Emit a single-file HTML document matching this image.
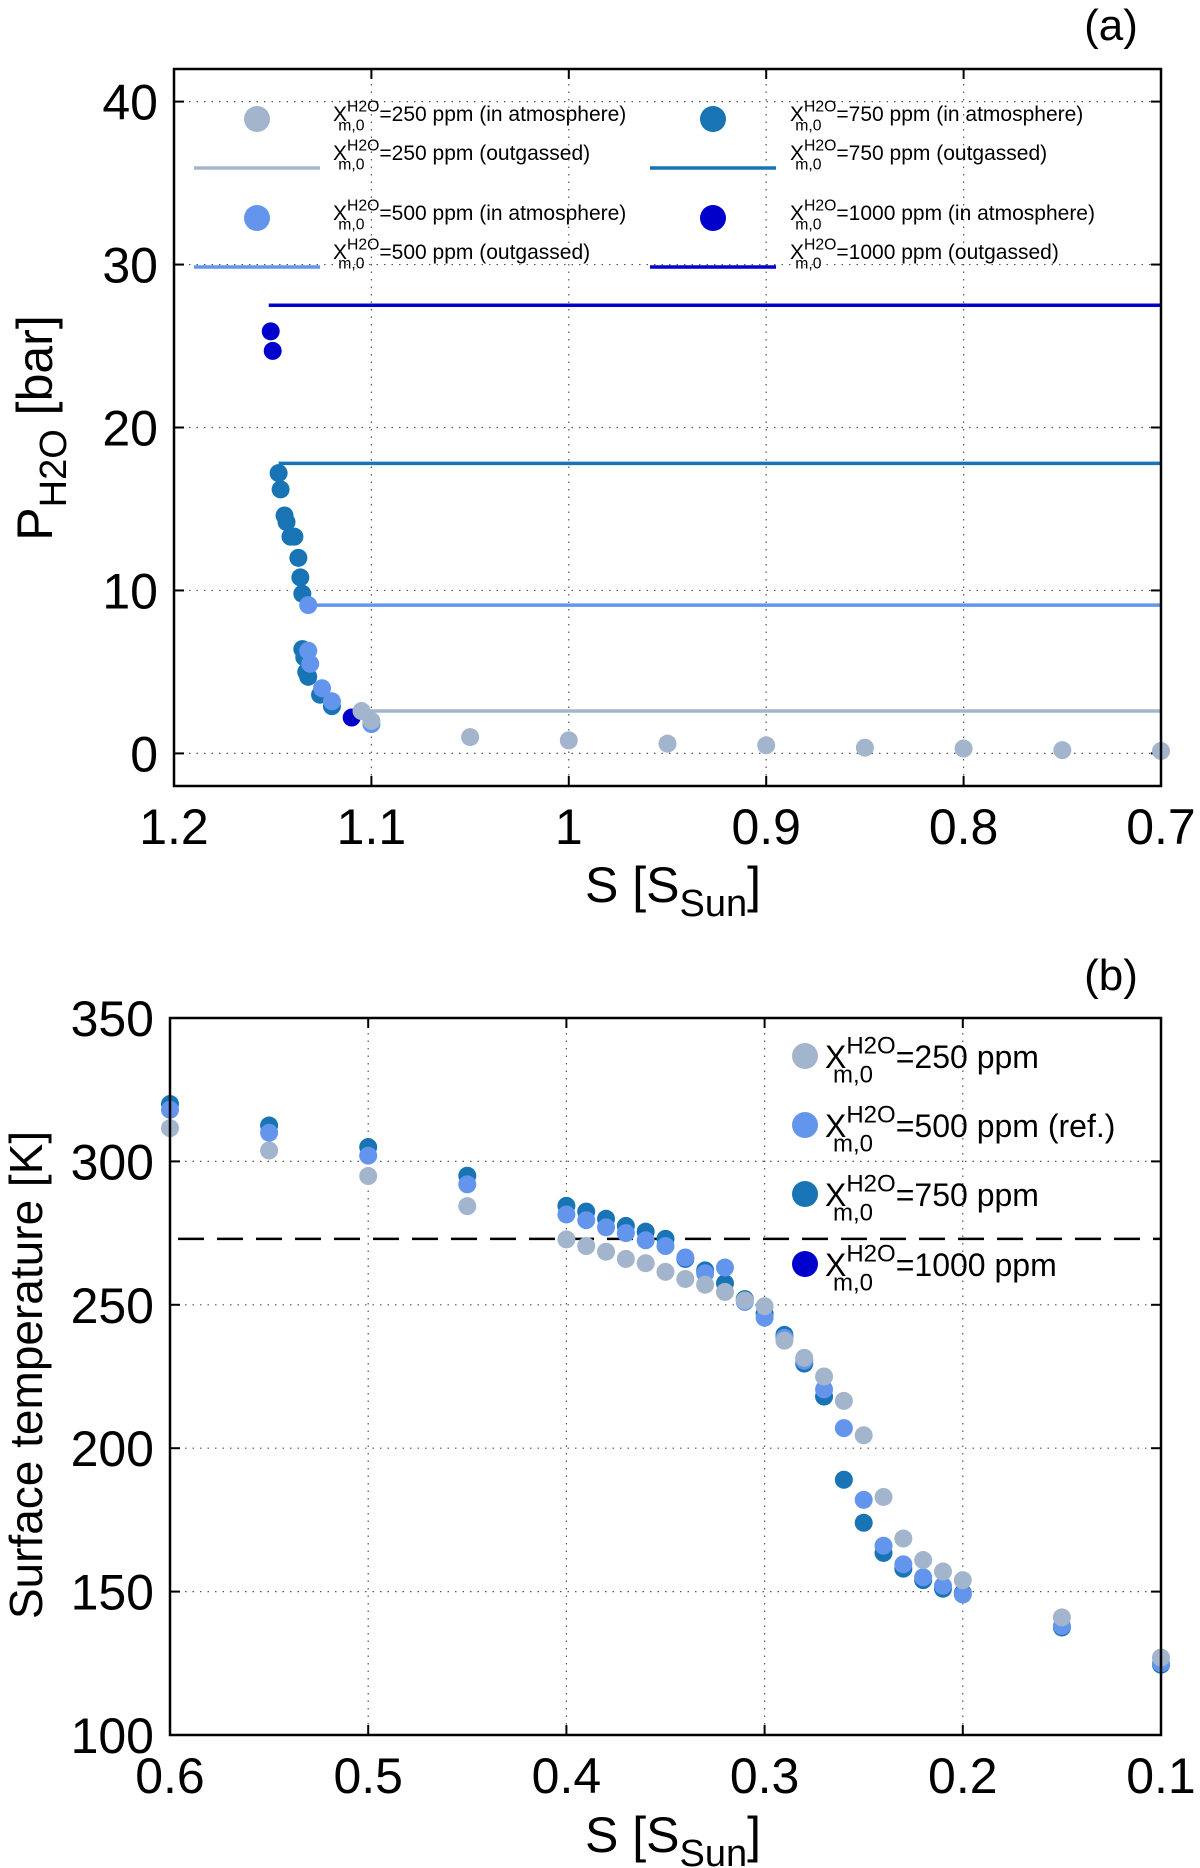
<!DOCTYPE html>
<html><head><meta charset="utf-8"><style>
body{margin:0;background:#fff;}
svg{display:block;font-family:"Liberation Sans",sans-serif;}
</style></head><body>
<svg id="chart" width="1200" height="1868" viewBox="0 0 1200 1868" xmlns="http://www.w3.org/2000/svg"></svg>
<script>
// Panel (a) data
const aXTicks = [1.2, 1.1, 1, 0.9, 0.8, 0.7];
const aYTicks = [0, 10, 20, 30, 40];
const a250S = [1.105, 1.1, 1.05, 1.0, 0.95, 0.9, 0.85, 0.8, 0.75, 0.7];
const a250P = [2.6, 2.0, 1.0, 0.8, 0.6, 0.5, 0.35, 0.3, 0.2, 0.15];
const a500S = [1.132, 1.132, 1.131, 1.125, 1.12, 1.1];
const a500P = [9.1, 6.3, 5.5, 4.0, 3.2, 1.8];
const a750S = [1.147, 1.146, 1.144, 1.143, 1.141, 1.139, 1.137, 1.136, 1.135, 1.135, 1.134, 1.133, 1.132, 1.126, 1.12];
const a750P = [17.2, 16.2, 14.6, 14.2, 13.3, 13.3, 12.0, 10.8, 9.8, 6.4, 5.9, 5.0, 4.7, 3.6, 2.9];
const a1000S = [1.151, 1.15, 1.11];
const a1000P = [25.9, 24.7, 2.2];
const outStart = [1.105, 1.132, 1.147, 1.152];
const outLevel = [2.6, 9.1, 17.8, 27.5];
// Panel (b) data
const bXTicks = [0.6, 0.5, 0.4, 0.3, 0.2, 0.1];
const bYTicks = [100, 150, 200, 250, 300, 350];
const bS = [0.6,0.55,0.5,0.45,0.4,0.39,0.38,0.37,0.36,0.35,0.34,0.33,0.32,0.31,0.3,0.29,0.28,0.27,0.26,0.25,0.24,0.23,0.22,0.21,0.2,0.15,0.1];
const b250 = [311.6,303.8,294.9,284.4,272.8,270.5,268.5,266,264.5,261.5,259,257,254.5,251.5,249.5,237.5,231.5,225,216.5,204.5,183,168.5,161,157,154,141,127];
const b500 = [318,310,302,292,281.5,279.5,277,275,272.5,270.5,266.5,261,263,251,245.5,238.5,230.5,220.5,207,182,166,159.5,155,152,149,138,125];
const b750 = [320,312.5,305,295,284.5,282.5,280,277.5,275.5,273,266,262,257.5,252,247,239.5,229.5,218,189,174,163.5,158,154,151,149.5,137.5,124.5];
const freezeT = 273;

const C250='#a2b5cd', C500='#6495ed', C750='#1874b4', C1000='#0000cd';
const svg=document.getElementById('chart');
const NS='http://www.w3.org/2000/svg';
function el(tag,attrs,parent){const e=document.createElementNS(NS,tag);for(const k in attrs)e.setAttribute(k,attrs[k]);(parent||svg).appendChild(e);return e;}

function axes(px0,px1,py0,py1,xmin,xmax,ymin,ymax){
  return {x:v=>px0+(v-xmin)/(xmax-xmin)*(px1-px0), y:v=>py1-(v-ymin)/(ymax-ymin)*(py1-py0)};
}
function frame(g,L,R,T,B,xt,yt,ax,fmtX){
  for(const v of yt){const y=ax.y(v);
    const gl=el('line',{x1:L,x2:R,y1:y,y2:y,stroke:'#555','stroke-width':1.2,'stroke-dasharray':'1.5 6'},g);
    
    el('line',{x1:L,x2:L+10,y1:y,y2:y,stroke:'#000','stroke-width':2},g);
    el('line',{x1:R,x2:R-10,y1:y,y2:y,stroke:'#000','stroke-width':2},g);
    const t=el('text',{x:L-16,y:y+18,'text-anchor':'end','font-size':50},g);t.textContent=v;
    
  }
  for(const v of xt){const x=ax.x(v);
    const gl=el('line',{x1:x,x2:x,y1:T,y2:B,stroke:'#555','stroke-width':1.2,'stroke-dasharray':'1.5 6'},g);
    
    el('line',{x1:x,x2:x,y1:B,y2:B-10,stroke:'#000','stroke-width':2},g);
    el('line',{x1:x,x2:x,y1:T,y2:T+10,stroke:'#000','stroke-width':2},g);
    const t=el('text',{x:x,y:B+58,'text-anchor':'middle','font-size':50},g);t.textContent=fmtX(v);
    
  }
}
function border(g,L,R,T,B){const r=el('rect',{x:L,y:T,width:R-L,height:B-T,fill:'none',stroke:'#000','stroke-width':2.5},g);
  }
function dots(g,xs,ys,ax,color,name,r){
  for(let i=0;i<xs.length;i++){const c=el('circle',{cx:ax.x(xs[i]),cy:ax.y(ys[i]),r:r||9,fill:color},g);
    }
}
function xsym(parent,x,y,fs,rest){
  const t=el('text',{x:x,y:y,'font-size':fs},parent);
  const a=el('tspan',{},t);a.textContent='X';
  const b=el('tspan',{'font-size':fs*0.75,dy:-fs*0.45},t);b.textContent='H2O';
  const c=el('tspan',{'font-size':fs*0.75,dx:-fs*1.96,dy:fs*0.9},t);c.textContent='m,0';
  const d=el('tspan',{dx:fs*0.71,dy:-fs*0.45},t);d.textContent=rest;
  return t;
}
function fmt(v){return String(v);}

// ---------- Panel a ----------
const ga=el('g',{});
const aL=174,aR=1161,aT=69,aB=786;
const axA=axes(aL,aR,aT,aB,1.2,0.7,-2,42);
frame(ga,aL,aR,aT,aB,aXTicks,aYTicks,axA,fmt);
const outColors=[C250,C500,C750,C1000];
for(let i=0;i<outLevel.length;i++){
  const l=el('line',{x1:axA.x(outStart[i]),x2:axA.x(0.7),y1:axA.y(outLevel[i]),y2:axA.y(outLevel[i]),stroke:outColors[i],'stroke-width':3.5},ga);
  
}
dots(ga,a750S,a750P,axA,C750,'point-750ppm');
dots(ga,a1000S,a1000P,axA,C1000,'point-1000ppm');
dots(ga,a500S,a500P,axA,C500,'point-500ppm');
dots(ga,a250S,a250P,axA,C250,'point-250ppm');
border(ga,aL,aR,aT,aB);
// legend a
const lega=el('g',{});
const legItems=[
 [257,119,'m',C250,'=250 ppm (in atmosphere)',333],[257,158,'l',C250,'=250 ppm (outgassed)',333],
 [257,218,'m',C500,'=500 ppm (in atmosphere)',333],[257,257,'l',C500,'=500 ppm (outgassed)',333],
 [713,119,'m',C750,'=750 ppm (in atmosphere)',790],[713,158,'l',C750,'=750 ppm (outgassed)',790],
 [713,218,'m',C1000,'=1000 ppm (in atmosphere)',790],[713,257,'l',C1000,'=1000 ppm (outgassed)',790]];
for(const it of legItems){
  const g=el('g',{},lega);
  if(it[2]==='m') el('circle',{cx:it[0],cy:it[1],r:13,fill:it[3]},g);
  else el('line',{x1:it[0]-63,x2:it[0]+63,y1:it[1]+10,y2:it[1]+10,stroke:it[3],'stroke-width':3.5},g);
  xsym(g,it[5],it[1]+2,21,it[4]);
}
let t=el('text',{x:1111,y:40,'text-anchor':'middle','font-size':44});t.textContent='(a)';

t=el('text',{x:673,y:902,'text-anchor':'middle','font-size':50});

t.innerHTML='S [S<tspan font-size="38" dy="14">Sun</tspan><tspan dy="-14">]</tspan>';
t=el('text',{x:0,y:0,'text-anchor':'middle','font-size':50,transform:'translate(52,428) rotate(-90)'});

t.innerHTML='P<tspan font-size="38" dy="14">H2O</tspan><tspan dy="-14"> [bar]</tspan>';

// ---------- Panel b ----------
const gb=el('g',{});
const bL=170,bR=1161,bT=1018,bB=1735;
const axB=axes(bL,bR,bT,bB,0.6,0.1,100,350);
frame(gb,bL,bR,bT,bB,bXTicks,bYTicks,axB,fmt);
const fl=el('line',{x1:bL+8,x2:bR,y1:axB.y(freezeT),y2:axB.y(freezeT),stroke:'#000','stroke-width':2.5,'stroke-dasharray':'26 13'},gb);

dots(gb,bS,b750,axB,C750,'point-750ppm');
dots(gb,bS,b500,axB,C500,'point-500ppm');
dots(gb,bS,b250,axB,C250,'point-250ppm');
border(gb,bL,bR,bT,bB);
const legb=el('g',{});
const legB=[[1056,C250,'=250 ppm'],[1125,C500,'=500 ppm (ref.)'],[1194,C750,'=750 ppm'],[1264,C1000,'=1000 ppm']];
for(const it of legB){
  const g=el('g',{},legb);
  el('circle',{cx:805,cy:it[0],r:13,fill:it[1]},g);
  xsym(g,825,it[0]+12,32,it[2]);
}
t=el('text',{x:1111,y:990,'text-anchor':'middle','font-size':44});t.textContent='(b)';

t=el('text',{x:673,y:1852,'text-anchor':'middle','font-size':50});

t.innerHTML='S [S<tspan font-size="38" dy="14">Sun</tspan><tspan dy="-14">]</tspan>';
t=el('text',{x:0,y:0,'text-anchor':'middle','font-size':46,transform:'translate(42,1375) rotate(-90)'});
t.textContent='Surface temperature [K]';

</script>
</body></html>
